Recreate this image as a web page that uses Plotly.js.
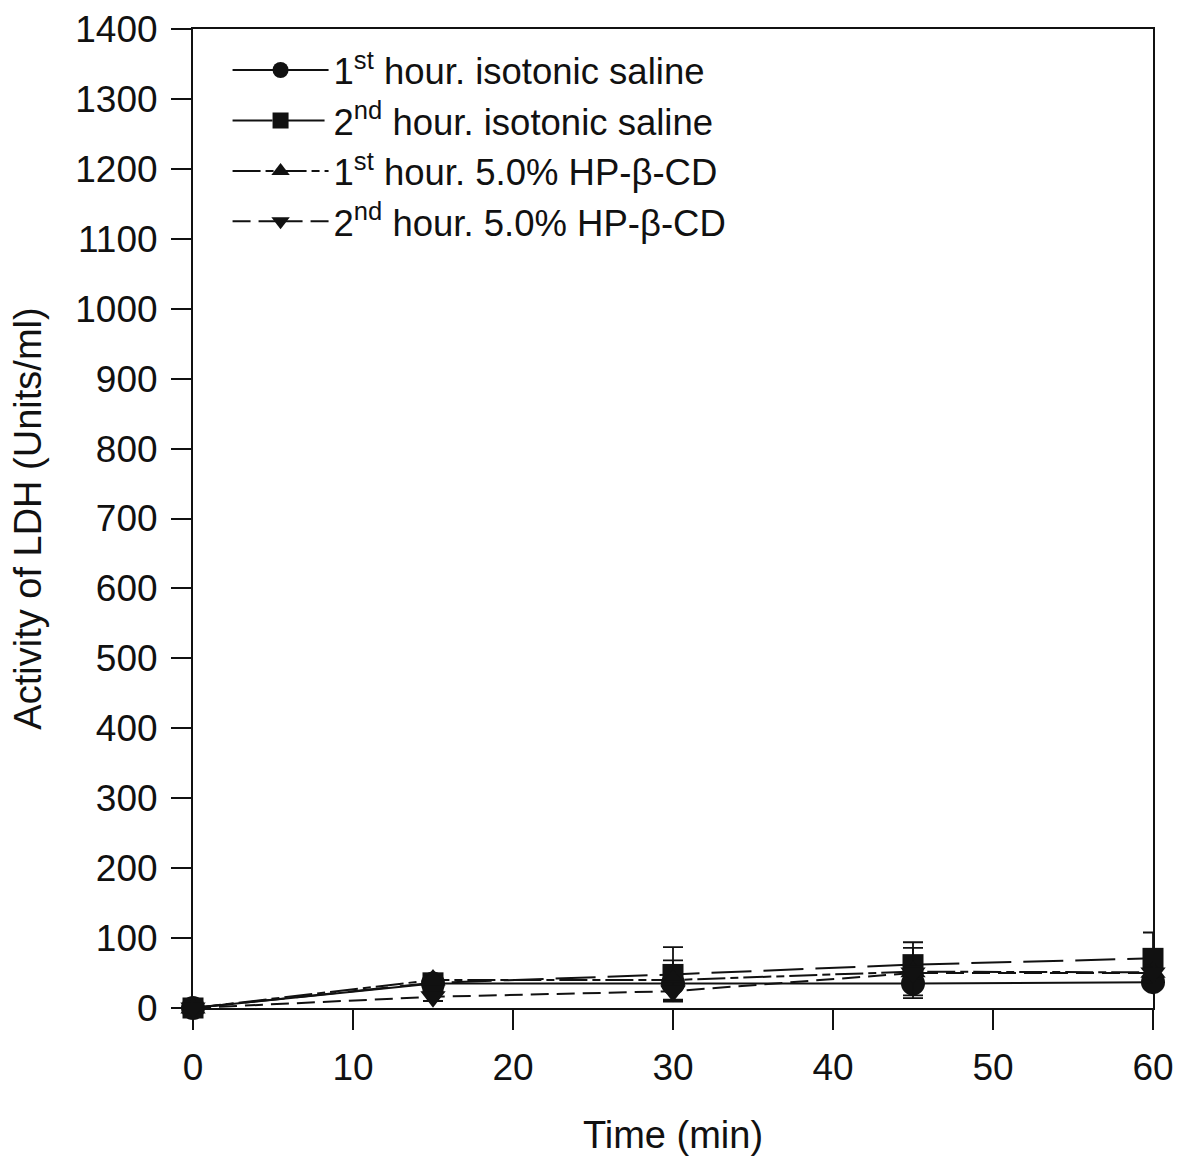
<!DOCTYPE html>
<html>
<head>
<meta charset="utf-8">
<script src="https://cdn.plot.ly/plotly-3.0.1.min.js"></script>
<style>html,body{margin:0;padding:0;background:#fff;}#chart{width:1180px;height:1156px;}</style>
</head>
<body>
<div id="chart"></div>
<script>
const timeMin = [0, 15, 30, 45, 60];
const seriesNames = [
  "1<sup>st</sup> hour. isotonic saline",
  "2<sup>nd</sup> hour. isotonic saline",
  "1<sup>st</sup> hour. 5.0% HP-β-CD",
  "2<sup>nd</sup> hour. 5.0% HP-β-CD"
];
const saline1 = [0, 35, 35, 35, 37];
const saline1Err = [0, 4, 6, 21, 8];
const saline2 = [0, 36, 48, 62, 71];
const saline2Err = [0, 5, 39, 32, 37];
const hpcd1 = [0, 40, 40, 52, 51];
const hpcd1Err = [0, 5, 28, 34, 10];
const hpcd2 = [0, 16, 24, 50, 50];
const hpcd2Err = [0, 6, 14, 10, 8];
const yTicks = [0,100,200,300,400,500,600,700,800,900,1000,1100,1200,1300,1400];
const xTicks = [0,10,20,30,40,50,60];

const FONT = "Arial, 'Liberation Sans', sans-serif";
const ys = [saline1, saline2, hpcd1, hpcd2];
const errs = [saline1Err, saline2Err, hpcd1Err, hpcd2Err];
const symbols = ["circle", "square", "triangle-up", "triangle-down"];
const sizes = [24, 21, 22, 22];
const dashes = ["solid", "40px,12px", "28px,5px,8px,5px", "18px,8px"];

const traces = ys.map((y, i) => ({
  x: timeMin, y: y, name: seriesNames[i], type: "scatter", mode: "lines+markers",
  line: {color: "#111", width: 2, dash: dashes[i]},
  marker: {symbol: symbols[i], size: sizes[i], color: "#111", line: {width: 0}},
  error_y: {type: "data", array: errs[i], visible: true, color: "#111", thickness: 1.8, width: 10},
  cliponaxis: false
}));

const layout = {
  width: 1180, height: 1156,
  margin: {l: 193, r: 27, t: 29, b: 148},
  paper_bgcolor: "#fff", plot_bgcolor: "#fff",
  font: {family: FONT, size: 37, color: "#111"},
  showlegend: true,
  legend: {x: 0.036, y: 0.989, xanchor: "left", yanchor: "top", bgcolor: "rgba(0,0,0,0)",
    font: {family: FONT, size: 36.5, color: "#111"}, itemwidth: 96, tracegroupgap: 0},
  xaxis: {
    range: [0, 60], tickvals: xTicks, ticktext: xTicks.map(String),
    showline: true, linewidth: 2, linecolor: "#111", mirror: true,
    ticks: "outside", ticklen: 20, tickwidth: 2, tickcolor: "#111",
    ticklabelstandoff: 6,
    showgrid: false, zeroline: false, automargin: false,
    tickfont: {family: FONT, size: 37, color: "#111"},
    title: {text: "Time (min)", font: {family: FONT, size: 38, color: "#111"}, standoff: 34}
  },
  yaxis: {
    range: [0, 1400], tickvals: yTicks, ticktext: yTicks.map(String),
    showline: true, linewidth: 2, linecolor: "#111", mirror: true,
    ticks: "outside", ticklen: 20, tickwidth: 2, tickcolor: "#111",
    ticklabelstandoff: 6,
    showgrid: false, zeroline: false, automargin: false,
    tickfont: {family: FONT, size: 37, color: "#111"},
    title: {text: "Activity of LDH (Units/ml)", font: {family: FONT, size: 38, color: "#111"}, standoff: 22}
  }
};

Plotly.newPlot("chart", traces, layout, {displayModeBar: false, staticPlot: true});
</script>
</body>
</html>
